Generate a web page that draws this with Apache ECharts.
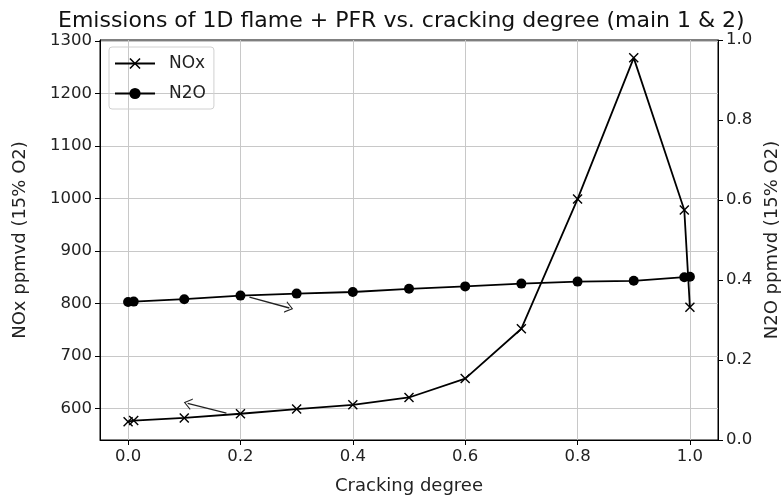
<!DOCTYPE html>
<html>
<head>
<meta charset="utf-8">
<script src="https://cdn.jsdelivr.net/npm/echarts@6/dist/echarts.min.js"></script>
<style>
  html, body { margin: 0; padding: 0; background: #fff; }
  #chart { width: 782px; height: 497px; }
</style>
</head>
<body>
<div id="chart"></div>
<script>
var chart = echarts.init(document.getElementById("chart"));

// cracking degree (x)
var crackDeg = [0.0, 0.01, 0.1, 0.2, 0.3, 0.4, 0.5, 0.6, 0.7, 0.8, 0.9, 0.99, 1.0];
// NOx ppmvd, left axis
var noxVals = [575, 577, 582, 590, 599, 607, 621, 657, 752, 999, 1268, 978, 793];
// N2O ppmvd, right axis
var n2oVals = [0.345, 0.346, 0.352, 0.361, 0.366, 0.370, 0.378, 0.384, 0.391, 0.396, 0.398, 0.407, 0.408];

var xTicks = [0.0, 0.2, 0.4, 0.6, 0.8, 1.0];
var noxTicks = [600, 700, 800, 900, 1000, 1100, 1200, 1300];

// annotation arrows [from, to]
var noxArrow = [[0.175, 591], [0.106, 610]];
var n2oArrow = [[0.216, 0.357], [0.287, 0.330]];

function pairs(xs, ys) {
    var out = [];
    for (var i = 0; i < xs.length; i++) out.push([xs[i], ys[i]]);
    return out;
}

var FONT = "DejaVu Sans";
var crossPath = "path://M0,1 L1,0 L5,4 L9,0 L10,1 L6,5 L10,9 L9,10 L5,6 L1,10 L0,9 L4,5 Z";
var arrowPath = "path://M0,10 L5,0 L10,10 L8.8,10 L5,2.2 L1.2,10 Z";

function arrowLine(a) {
    return {
        silent: true,
        symbol: ["none", arrowPath],
        symbolSize: [12, 8],
        label: { show: false },
        emphasis: { disabled: true },
        lineStyle: { color: "#222", width: 1.3, type: "solid", curveness: -0.3 },
        data: [[{ coord: a[0] }, { coord: a[1] }]]
    };
}

var tickLabel = { color: "#222", fontFamily: FONT, fontSize: 16.5 };
var nameStyle = { color: "#222", fontFamily: FONT, fontSize: 18 };

chart.setOption({
    animation: false,
    title: {
        text: "Emissions of 1D flame + PFR vs. cracking degree (main 1 & 2)",
        left: 53,
        top: 5,
        textStyle: { color: "#111", fontFamily: FONT, fontSize: 22, fontWeight: "normal" }
    },
    legend: {
        left: 109,
        top: 47,
        orient: "vertical",
        data: ["NOx", "N2O"],
        itemWidth: 40,
        itemHeight: 14,
        itemGap: 13,
        padding: [8, 8, 7, 5],
        borderColor: "#d0d0d0",
        borderWidth: 1,
        borderRadius: 3,
        textStyle: { color: "#222", fontFamily: FONT, fontSize: 17, padding: [0, 0, 0, 9] }
    },
    grid: {
        left: 100,
        right: 64,
        top: 40,
        bottom: 57,
        containLabel: false,
        outerBoundsMode: "none",
        show: true,
        borderColor: "#000",
        borderWidth: 1
    },
    xAxis: {
        type: "value",
        min: -0.05,
        max: 1.05,
        name: "Cracking degree",
        nameLocation: "middle",
        nameGap: 37,
        nameTextStyle: nameStyle,
        axisLine: { onZero: false, lineStyle: { color: "#000" } },
        axisTick: { customValues: xTicks, length: 5, lineStyle: { color: "#000" } },
        axisLabel: Object.assign({ customValues: xTicks, margin: 8, formatter: function (v) { return v.toFixed(1); } }, tickLabel),
        splitLine: { show: true, lineStyle: { color: "#c8c8c8", width: 1 } }
    },
    yAxis: [
        {
            type: "value",
            min: 540,
            max: 1302,
            name: "NOx ppmvd (15% O2)",
            nameLocation: "middle",
            nameGap: 71,
            nameTextStyle: nameStyle,
            axisLine: { show: true, onZero: false, lineStyle: { color: "#000" } },
            axisTick: { show: true, customValues: noxTicks, length: 5, lineStyle: { color: "#000" } },
            axisLabel: Object.assign({ customValues: noxTicks, margin: 8, formatter: function (v) { return String(v); } }, tickLabel),
            splitLine: { show: true, lineStyle: { color: "#c8c8c8", width: 1 } }
        },
        {
            type: "value",
            min: 0,
            max: 1.0,
            interval: 0.2,
            position: "right",
            name: "N2O ppmvd (15% O2)",
            nameLocation: "middle",
            nameGap: 43,
            nameTextStyle: nameStyle,
            axisLine: { show: true, onZero: false, lineStyle: { color: "#000" } },
            axisTick: { show: true, length: 5, lineStyle: { color: "#000" } },
            axisLabel: Object.assign({ margin: 8, formatter: function (v) { return v.toFixed(1); } }, tickLabel),
            splitLine: { show: false }
        }
    ],
    series: [
        {
            name: "NOx",
            type: "line",
            yAxisIndex: 0,
            data: pairs(crackDeg, noxVals),
            symbol: crossPath,
            symbolSize: 10,
            showAllSymbol: true,
            color: "#000",
            lineStyle: { color: "#000", width: 1.8 },
            itemStyle: { color: "#000" },
            markLine: arrowLine(noxArrow),
            z: 3
        },
        {
            name: "N2O",
            type: "line",
            yAxisIndex: 1,
            data: pairs(crackDeg, n2oVals),
            symbol: "circle",
            symbolSize: 10,
            showAllSymbol: true,
            color: "#000",
            lineStyle: { color: "#000", width: 1.8 },
            itemStyle: { color: "#000" },
            markLine: arrowLine(n2oArrow),
            z: 4
        }
    ]
});
</script>
</body>
</html>
